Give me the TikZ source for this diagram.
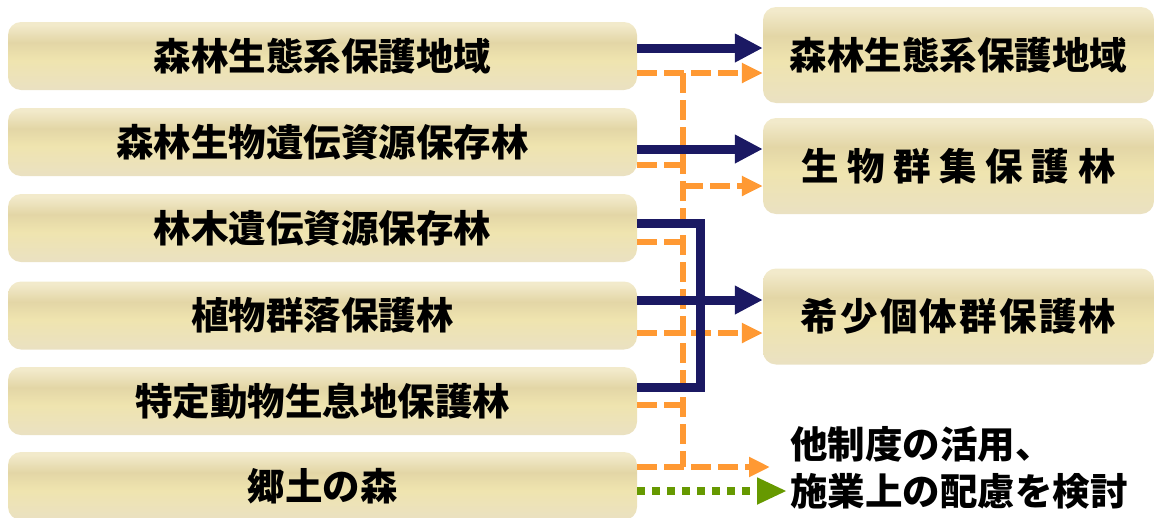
\documentclass[tikz,border=0pt]{standalone}
\usepackage{fontspec}
\newfontfamily\jp{Noto Sans CJK JP}
\usetikzlibrary{arrows.meta}
\definecolor{navy}{RGB}{27,25,99}
\definecolor{orng}{RGB}{255,153,51}
\definecolor{grn}{RGB}{102,153,0}
\definecolor{bxtop}{RGB}{242,234,203}
\definecolor{bxband}{RGB}{227,214,166}
\definecolor{bxmid}{RGB}{239,228,175}
\definecolor{bxbot}{RGB}{234,225,194}
\pgfdeclareverticalshading{boxshade}{100bp}{color(0bp)=(bxbot); color(25bp)=(bxbot); color(47bp)=(bxmid); color(60bp)=(bxband); color(73bp)=(bxtop); color(100bp)=(bxtop)}
\begin{document}
\begin{tikzpicture}[x=1pt,y=-1pt,
  box/.style={rounded corners=13pt, shading=boxshade, inner sep=0pt,
    font=\jp\bfseries\fontsize{37.5}{41}\selectfont, text=black},
  lbox/.style={box, minimum width=629pt, minimum height=68pt},
  rbox/.style={box, minimum width=391pt, minimum height=96pt},
  nvline/.style={draw=navy, line width=9pt, line join=miter},
  nvarr/.style={nvline, -{Triangle[length=28pt,width=27pt]}},
  orline/.style={draw=orng, line width=6pt, dash pattern=on 20pt off 7pt},
  orarr/.style={orline, -{Triangle[length=21pt,width=19pt]}},
  grarr/.style={draw=grn, line width=8.5pt, dash pattern=on 8pt off 7pt, -{Triangle[length=30pt,width=25pt]}},
  notetext/.style={inner sep=0pt, align=left, font=\jp\bfseries\fontsize{37.5}{47}\selectfont, text=black}
]
\useasboundingbox (0,0) rectangle (1155,517);

% left boxes
\node[lbox] (L1) at (322.5,56) {森林生態系保護地域};
\node[lbox] (L2) at (322.5,142) {森林生物遺伝資源保存林};
\node[lbox] (L3) at (322.5,228) {林木遺伝資源保存林};
\node[lbox] (L4) at (322.5,315.5) {植物群落保護林};
\node[lbox] (L5) at (322.5,401) {特定動物生息地保護林};
\node[lbox] (L6) at (322.5,486) {郷土の森};

% right boxes
\node[rbox] (R1) at (958.5,55) {森林生態系保護地域};
\node[rbox] (R2) at (958.5,166) {生 物 群 集 保 護 林};
\node[rbox] (R3) at (958.5,316.5) {\addfontfeatures{LetterSpace=6}希少個体群保護林};

\node[notetext, anchor=west] (N) at (790,468) {他制度の活用、\\施業上の配慮を検討};

% junction coordinates
\coordinate (jt) at (683,73);
\coordinate (jb) at (683,467);
\coordinate (bk) at (700,300);

% orange dashed
\draw[orline] (jt) -- (jb);
\draw[orarr] (L1.east |- 0,73) -- (R1.west |- 0,73);
\draw[orline] (L2.east |- 0,165) -- (jt |- 0,165);
\draw[orarr] (jt |- 0,186) -- (R2.west |- 0,186);
\draw[orline] (L3.east |- 0,242) -- (jt |- 0,242);
\draw[orarr] (L4.east |- 0,333) -- (R3.west |- 0,333);
\draw[orline] (L5.east |- 0,405) -- (jt |- 0,405);
\draw[orarr] (L6.east |- 0,467) -- ([xshift=-20pt]N.west |- 0,467);

% navy solid
\draw[nvarr] (L1.east |- 0,48) -- (R1.west |- 0,48);
\draw[nvarr] (L2.east |- 0,149) -- (R2.west |- 0,149);
\draw[nvline] (L3.east |- 0,223.5) -| (bk |- 0,387) -- (L5.east |- 0,387);
\draw[nvarr] (L4.east |- 0,300) -- (R3.west |- 0,300);

% green dotted
\draw[grarr] (L6.east |- 0,491) -- ([xshift=-3pt]N.west |- 0,491);
\end{tikzpicture}
\end{document}
